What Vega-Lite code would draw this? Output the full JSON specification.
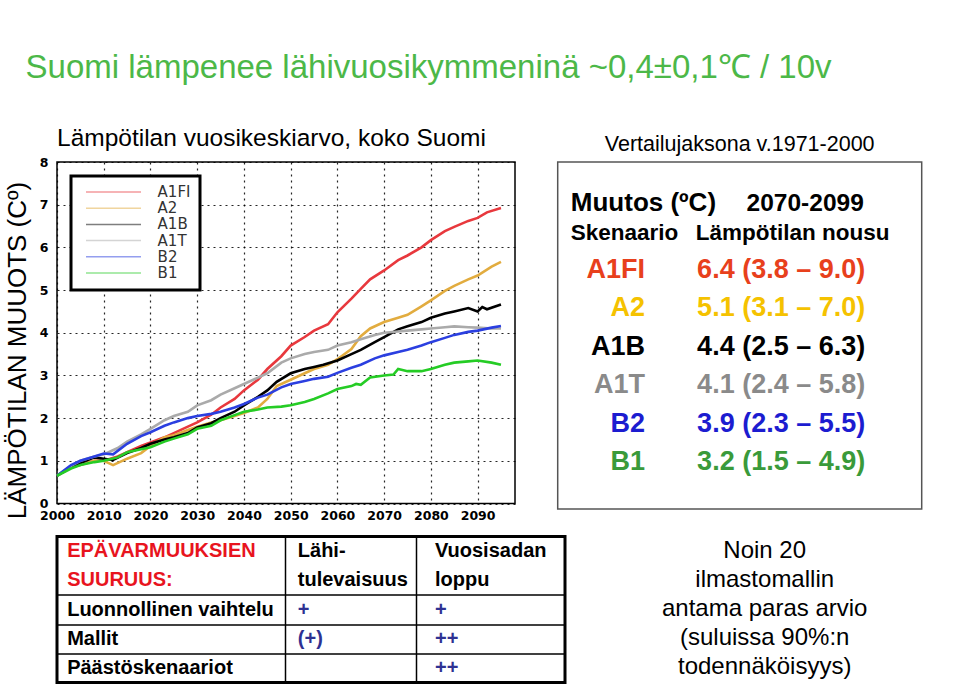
{
  "$schema": "https://vega.github.io/schema/vega-lite/v6.json",
  "padding": {"left": 3, "top": 51, "right": 0, "bottom": 0},
  "background": "white",
  "config": {"font": "Liberation Sans", "view": {"stroke": null}},
  "title": {"text": "Suomi lämpenee lähivuosikymmeninä ~0,4±0,1℃ / 10v", "anchor": "start", "fontSize": 33, "fontWeight": "normal", "color": "#4CB848", "dx": 22, "offset": 40},
  "columns": 2,
  "bounds": "flush",
  "align": {"row": "each", "column": "none"},
  "spacing": {"row": 27.5, "column": -7.3},
  "resolve": {"scale": {"color": "independent", "fill": "independent"}},
  "concat": [
    {
      "width": 458,
      "height": 341.5,
      "title": {"text": "Lämpötilan vuosikeskiarvo, koko Suomi", "anchor": "start", "frame": "group", "fontSize": 24.5, "fontWeight": "normal", "color": "black", "offset": 5},
      "view": {"stroke": "black", "strokeWidth": 1.5},
      "data": {"values": [
        {"skenaario": "A1FI", "vuosi": 2000, "muutos": 0.65}, {"skenaario": "A1FI", "vuosi": 2003, "muutos": 0.85}, {"skenaario": "A1FI", "vuosi": 2005, "muutos": 0.9}, {"skenaario": "A1FI", "vuosi": 2008, "muutos": 1.0}, {"skenaario": "A1FI", "vuosi": 2010, "muutos": 1.0}, {"skenaario": "A1FI", "vuosi": 2013, "muutos": 1.1}, {"skenaario": "A1FI", "vuosi": 2015, "muutos": 1.2}, {"skenaario": "A1FI", "vuosi": 2018, "muutos": 1.35}, {"skenaario": "A1FI", "vuosi": 2020, "muutos": 1.43}, {"skenaario": "A1FI", "vuosi": 2023, "muutos": 1.55}, {"skenaario": "A1FI", "vuosi": 2025, "muutos": 1.65}, {"skenaario": "A1FI", "vuosi": 2028, "muutos": 1.8}, {"skenaario": "A1FI", "vuosi": 2030, "muutos": 1.9}, {"skenaario": "A1FI", "vuosi": 2033, "muutos": 2.08}, {"skenaario": "A1FI", "vuosi": 2035, "muutos": 2.25}, {"skenaario": "A1FI", "vuosi": 2038, "muutos": 2.45}, {"skenaario": "A1FI", "vuosi": 2040, "muutos": 2.65}, {"skenaario": "A1FI", "vuosi": 2043, "muutos": 2.9}, {"skenaario": "A1FI", "vuosi": 2045, "muutos": 3.15}, {"skenaario": "A1FI", "vuosi": 2048, "muutos": 3.45}, {"skenaario": "A1FI", "vuosi": 2050, "muutos": 3.7}, {"skenaario": "A1FI", "vuosi": 2053, "muutos": 3.9}, {"skenaario": "A1FI", "vuosi": 2055, "muutos": 4.05}, {"skenaario": "A1FI", "vuosi": 2058, "muutos": 4.2}, {"skenaario": "A1FI", "vuosi": 2060, "muutos": 4.48}, {"skenaario": "A1FI", "vuosi": 2063, "muutos": 4.8}, {"skenaario": "A1FI", "vuosi": 2065, "muutos": 5.03}, {"skenaario": "A1FI", "vuosi": 2067, "muutos": 5.25}, {"skenaario": "A1FI", "vuosi": 2070, "muutos": 5.46}, {"skenaario": "A1FI", "vuosi": 2073, "muutos": 5.7}, {"skenaario": "A1FI", "vuosi": 2075, "muutos": 5.81}, {"skenaario": "A1FI", "vuosi": 2078, "muutos": 6.0}, {"skenaario": "A1FI", "vuosi": 2080, "muutos": 6.17}, {"skenaario": "A1FI", "vuosi": 2083, "muutos": 6.38}, {"skenaario": "A1FI", "vuosi": 2085, "muutos": 6.48}, {"skenaario": "A1FI", "vuosi": 2088, "muutos": 6.62}, {"skenaario": "A1FI", "vuosi": 2090, "muutos": 6.69}, {"skenaario": "A1FI", "vuosi": 2092, "muutos": 6.82}, {"skenaario": "A1FI", "vuosi": 2095, "muutos": 6.92},
        {"skenaario": "A2", "vuosi": 2000, "muutos": 0.65}, {"skenaario": "A2", "vuosi": 2003, "muutos": 0.85}, {"skenaario": "A2", "vuosi": 2005, "muutos": 0.92}, {"skenaario": "A2", "vuosi": 2008, "muutos": 1.0}, {"skenaario": "A2", "vuosi": 2010, "muutos": 1.0}, {"skenaario": "A2", "vuosi": 2012, "muutos": 0.9}, {"skenaario": "A2", "vuosi": 2015, "muutos": 1.05}, {"skenaario": "A2", "vuosi": 2018, "muutos": 1.18}, {"skenaario": "A2", "vuosi": 2020, "muutos": 1.35}, {"skenaario": "A2", "vuosi": 2023, "muutos": 1.55}, {"skenaario": "A2", "vuosi": 2025, "muutos": 1.6}, {"skenaario": "A2", "vuosi": 2028, "muutos": 1.72}, {"skenaario": "A2", "vuosi": 2030, "muutos": 1.8}, {"skenaario": "A2", "vuosi": 2033, "muutos": 1.9}, {"skenaario": "A2", "vuosi": 2035, "muutos": 1.95}, {"skenaario": "A2", "vuosi": 2038, "muutos": 2.05}, {"skenaario": "A2", "vuosi": 2040, "muutos": 2.12}, {"skenaario": "A2", "vuosi": 2043, "muutos": 2.25}, {"skenaario": "A2", "vuosi": 2045, "muutos": 2.45}, {"skenaario": "A2", "vuosi": 2047, "muutos": 2.75}, {"skenaario": "A2", "vuosi": 2050, "muutos": 2.9}, {"skenaario": "A2", "vuosi": 2053, "muutos": 3.05}, {"skenaario": "A2", "vuosi": 2055, "muutos": 3.15}, {"skenaario": "A2", "vuosi": 2058, "muutos": 3.25}, {"skenaario": "A2", "vuosi": 2060, "muutos": 3.38}, {"skenaario": "A2", "vuosi": 2063, "muutos": 3.62}, {"skenaario": "A2", "vuosi": 2065, "muutos": 3.92}, {"skenaario": "A2", "vuosi": 2067, "muutos": 4.1}, {"skenaario": "A2", "vuosi": 2070, "muutos": 4.25}, {"skenaario": "A2", "vuosi": 2073, "muutos": 4.35}, {"skenaario": "A2", "vuosi": 2075, "muutos": 4.42}, {"skenaario": "A2", "vuosi": 2078, "muutos": 4.62}, {"skenaario": "A2", "vuosi": 2080, "muutos": 4.76}, {"skenaario": "A2", "vuosi": 2083, "muutos": 4.98}, {"skenaario": "A2", "vuosi": 2085, "muutos": 5.1}, {"skenaario": "A2", "vuosi": 2088, "muutos": 5.25}, {"skenaario": "A2", "vuosi": 2090, "muutos": 5.34}, {"skenaario": "A2", "vuosi": 2093, "muutos": 5.55}, {"skenaario": "A2", "vuosi": 2095, "muutos": 5.66},
        {"skenaario": "A1B", "vuosi": 2000, "muutos": 0.65}, {"skenaario": "A1B", "vuosi": 2003, "muutos": 0.85}, {"skenaario": "A1B", "vuosi": 2005, "muutos": 0.95}, {"skenaario": "A1B", "vuosi": 2008, "muutos": 1.08}, {"skenaario": "A1B", "vuosi": 2010, "muutos": 1.05}, {"skenaario": "A1B", "vuosi": 2012, "muutos": 1.02}, {"skenaario": "A1B", "vuosi": 2015, "muutos": 1.18}, {"skenaario": "A1B", "vuosi": 2018, "muutos": 1.3}, {"skenaario": "A1B", "vuosi": 2020, "muutos": 1.4}, {"skenaario": "A1B", "vuosi": 2023, "muutos": 1.5}, {"skenaario": "A1B", "vuosi": 2025, "muutos": 1.55}, {"skenaario": "A1B", "vuosi": 2028, "muutos": 1.65}, {"skenaario": "A1B", "vuosi": 2030, "muutos": 1.78}, {"skenaario": "A1B", "vuosi": 2033, "muutos": 1.88}, {"skenaario": "A1B", "vuosi": 2035, "muutos": 2.0}, {"skenaario": "A1B", "vuosi": 2038, "muutos": 2.15}, {"skenaario": "A1B", "vuosi": 2040, "muutos": 2.3}, {"skenaario": "A1B", "vuosi": 2043, "muutos": 2.5}, {"skenaario": "A1B", "vuosi": 2045, "muutos": 2.65}, {"skenaario": "A1B", "vuosi": 2047, "muutos": 2.85}, {"skenaario": "A1B", "vuosi": 2050, "muutos": 3.05}, {"skenaario": "A1B", "vuosi": 2053, "muutos": 3.15}, {"skenaario": "A1B", "vuosi": 2055, "muutos": 3.2}, {"skenaario": "A1B", "vuosi": 2057, "muutos": 3.25}, {"skenaario": "A1B", "vuosi": 2060, "muutos": 3.35}, {"skenaario": "A1B", "vuosi": 2063, "muutos": 3.5}, {"skenaario": "A1B", "vuosi": 2065, "muutos": 3.6}, {"skenaario": "A1B", "vuosi": 2068, "muutos": 3.78}, {"skenaario": "A1B", "vuosi": 2070, "muutos": 3.9}, {"skenaario": "A1B", "vuosi": 2073, "muutos": 4.08}, {"skenaario": "A1B", "vuosi": 2075, "muutos": 4.15}, {"skenaario": "A1B", "vuosi": 2078, "muutos": 4.25}, {"skenaario": "A1B", "vuosi": 2080, "muutos": 4.35}, {"skenaario": "A1B", "vuosi": 2083, "muutos": 4.45}, {"skenaario": "A1B", "vuosi": 2085, "muutos": 4.5}, {"skenaario": "A1B", "vuosi": 2088, "muutos": 4.58}, {"skenaario": "A1B", "vuosi": 2090, "muutos": 4.5}, {"skenaario": "A1B", "vuosi": 2091, "muutos": 4.6}, {"skenaario": "A1B", "vuosi": 2092, "muutos": 4.55}, {"skenaario": "A1B", "vuosi": 2095, "muutos": 4.66},
        {"skenaario": "A1T", "vuosi": 2000, "muutos": 0.65}, {"skenaario": "A1T", "vuosi": 2003, "muutos": 0.88}, {"skenaario": "A1T", "vuosi": 2005, "muutos": 1.0}, {"skenaario": "A1T", "vuosi": 2008, "muutos": 1.1}, {"skenaario": "A1T", "vuosi": 2010, "muutos": 1.15}, {"skenaario": "A1T", "vuosi": 2013, "muutos": 1.3}, {"skenaario": "A1T", "vuosi": 2015, "muutos": 1.45}, {"skenaario": "A1T", "vuosi": 2018, "muutos": 1.62}, {"skenaario": "A1T", "vuosi": 2020, "muutos": 1.75}, {"skenaario": "A1T", "vuosi": 2023, "muutos": 1.95}, {"skenaario": "A1T", "vuosi": 2025, "muutos": 2.05}, {"skenaario": "A1T", "vuosi": 2028, "muutos": 2.15}, {"skenaario": "A1T", "vuosi": 2030, "muutos": 2.3}, {"skenaario": "A1T", "vuosi": 2033, "muutos": 2.42}, {"skenaario": "A1T", "vuosi": 2035, "muutos": 2.55}, {"skenaario": "A1T", "vuosi": 2038, "muutos": 2.7}, {"skenaario": "A1T", "vuosi": 2040, "muutos": 2.8}, {"skenaario": "A1T", "vuosi": 2043, "muutos": 2.95}, {"skenaario": "A1T", "vuosi": 2045, "muutos": 3.05}, {"skenaario": "A1T", "vuosi": 2048, "muutos": 3.3}, {"skenaario": "A1T", "vuosi": 2050, "muutos": 3.4}, {"skenaario": "A1T", "vuosi": 2053, "muutos": 3.5}, {"skenaario": "A1T", "vuosi": 2055, "muutos": 3.55}, {"skenaario": "A1T", "vuosi": 2058, "muutos": 3.6}, {"skenaario": "A1T", "vuosi": 2060, "muutos": 3.7}, {"skenaario": "A1T", "vuosi": 2063, "muutos": 3.78}, {"skenaario": "A1T", "vuosi": 2065, "muutos": 3.85}, {"skenaario": "A1T", "vuosi": 2068, "muutos": 3.95}, {"skenaario": "A1T", "vuosi": 2070, "muutos": 4.0}, {"skenaario": "A1T", "vuosi": 2073, "muutos": 4.03}, {"skenaario": "A1T", "vuosi": 2075, "muutos": 4.05}, {"skenaario": "A1T", "vuosi": 2078, "muutos": 4.08}, {"skenaario": "A1T", "vuosi": 2080, "muutos": 4.1}, {"skenaario": "A1T", "vuosi": 2083, "muutos": 4.13}, {"skenaario": "A1T", "vuosi": 2085, "muutos": 4.15}, {"skenaario": "A1T", "vuosi": 2088, "muutos": 4.13}, {"skenaario": "A1T", "vuosi": 2090, "muutos": 4.12}, {"skenaario": "A1T", "vuosi": 2093, "muutos": 4.1}, {"skenaario": "A1T", "vuosi": 2095, "muutos": 4.1},
        {"skenaario": "B2", "vuosi": 2000, "muutos": 0.65}, {"skenaario": "B2", "vuosi": 2003, "muutos": 0.9}, {"skenaario": "B2", "vuosi": 2005, "muutos": 1.0}, {"skenaario": "B2", "vuosi": 2008, "muutos": 1.1}, {"skenaario": "B2", "vuosi": 2010, "muutos": 1.17}, {"skenaario": "B2", "vuosi": 2012, "muutos": 1.15}, {"skenaario": "B2", "vuosi": 2015, "muutos": 1.4}, {"skenaario": "B2", "vuosi": 2018, "muutos": 1.58}, {"skenaario": "B2", "vuosi": 2020, "muutos": 1.67}, {"skenaario": "B2", "vuosi": 2023, "muutos": 1.82}, {"skenaario": "B2", "vuosi": 2025, "muutos": 1.9}, {"skenaario": "B2", "vuosi": 2028, "muutos": 2.0}, {"skenaario": "B2", "vuosi": 2030, "muutos": 2.05}, {"skenaario": "B2", "vuosi": 2033, "muutos": 2.1}, {"skenaario": "B2", "vuosi": 2035, "muutos": 2.15}, {"skenaario": "B2", "vuosi": 2038, "muutos": 2.25}, {"skenaario": "B2", "vuosi": 2040, "muutos": 2.33}, {"skenaario": "B2", "vuosi": 2043, "muutos": 2.48}, {"skenaario": "B2", "vuosi": 2045, "muutos": 2.55}, {"skenaario": "B2", "vuosi": 2048, "muutos": 2.72}, {"skenaario": "B2", "vuosi": 2050, "muutos": 2.8}, {"skenaario": "B2", "vuosi": 2053, "muutos": 2.87}, {"skenaario": "B2", "vuosi": 2055, "muutos": 2.92}, {"skenaario": "B2", "vuosi": 2058, "muutos": 2.97}, {"skenaario": "B2", "vuosi": 2060, "muutos": 3.06}, {"skenaario": "B2", "vuosi": 2063, "muutos": 3.18}, {"skenaario": "B2", "vuosi": 2065, "muutos": 3.25}, {"skenaario": "B2", "vuosi": 2068, "muutos": 3.4}, {"skenaario": "B2", "vuosi": 2070, "muutos": 3.47}, {"skenaario": "B2", "vuosi": 2073, "muutos": 3.55}, {"skenaario": "B2", "vuosi": 2075, "muutos": 3.6}, {"skenaario": "B2", "vuosi": 2078, "muutos": 3.7}, {"skenaario": "B2", "vuosi": 2080, "muutos": 3.78}, {"skenaario": "B2", "vuosi": 2083, "muutos": 3.88}, {"skenaario": "B2", "vuosi": 2085, "muutos": 3.95}, {"skenaario": "B2", "vuosi": 2088, "muutos": 4.02}, {"skenaario": "B2", "vuosi": 2090, "muutos": 4.05}, {"skenaario": "B2", "vuosi": 2093, "muutos": 4.12}, {"skenaario": "B2", "vuosi": 2095, "muutos": 4.16},
        {"skenaario": "B1", "vuosi": 2000, "muutos": 0.65}, {"skenaario": "B1", "vuosi": 2003, "muutos": 0.82}, {"skenaario": "B1", "vuosi": 2005, "muutos": 0.9}, {"skenaario": "B1", "vuosi": 2008, "muutos": 0.97}, {"skenaario": "B1", "vuosi": 2010, "muutos": 1.0}, {"skenaario": "B1", "vuosi": 2013, "muutos": 1.08}, {"skenaario": "B1", "vuosi": 2015, "muutos": 1.2}, {"skenaario": "B1", "vuosi": 2018, "muutos": 1.27}, {"skenaario": "B1", "vuosi": 2020, "muutos": 1.32}, {"skenaario": "B1", "vuosi": 2023, "muutos": 1.45}, {"skenaario": "B1", "vuosi": 2025, "muutos": 1.52}, {"skenaario": "B1", "vuosi": 2028, "muutos": 1.62}, {"skenaario": "B1", "vuosi": 2030, "muutos": 1.75}, {"skenaario": "B1", "vuosi": 2033, "muutos": 1.82}, {"skenaario": "B1", "vuosi": 2035, "muutos": 1.95}, {"skenaario": "B1", "vuosi": 2038, "muutos": 2.07}, {"skenaario": "B1", "vuosi": 2040, "muutos": 2.15}, {"skenaario": "B1", "vuosi": 2043, "muutos": 2.2}, {"skenaario": "B1", "vuosi": 2045, "muutos": 2.25}, {"skenaario": "B1", "vuosi": 2048, "muutos": 2.27}, {"skenaario": "B1", "vuosi": 2050, "muutos": 2.3}, {"skenaario": "B1", "vuosi": 2053, "muutos": 2.38}, {"skenaario": "B1", "vuosi": 2055, "muutos": 2.45}, {"skenaario": "B1", "vuosi": 2058, "muutos": 2.58}, {"skenaario": "B1", "vuosi": 2060, "muutos": 2.68}, {"skenaario": "B1", "vuosi": 2063, "muutos": 2.75}, {"skenaario": "B1", "vuosi": 2064, "muutos": 2.8}, {"skenaario": "B1", "vuosi": 2065, "muutos": 2.78}, {"skenaario": "B1", "vuosi": 2067, "muutos": 2.95}, {"skenaario": "B1", "vuosi": 2070, "muutos": 3.0}, {"skenaario": "B1", "vuosi": 2072, "muutos": 3.02}, {"skenaario": "B1", "vuosi": 2073, "muutos": 3.15}, {"skenaario": "B1", "vuosi": 2075, "muutos": 3.1}, {"skenaario": "B1", "vuosi": 2078, "muutos": 3.1}, {"skenaario": "B1", "vuosi": 2080, "muutos": 3.15}, {"skenaario": "B1", "vuosi": 2083, "muutos": 3.25}, {"skenaario": "B1", "vuosi": 2085, "muutos": 3.3}, {"skenaario": "B1", "vuosi": 2088, "muutos": 3.33}, {"skenaario": "B1", "vuosi": 2090, "muutos": 3.35}, {"skenaario": "B1", "vuosi": 2093, "muutos": 3.3}, {"skenaario": "B1", "vuosi": 2095, "muutos": 3.25}
      ]},
      "mark": {"type": "line", "strokeWidth": 2.6},
      "encoding": {
        "x": {"field": "vuosi", "type": "quantitative", "scale": {"domain": [2000, 2098], "nice": false},
          "axis": {"values": [2000, 2010, 2020, 2030, 2040, 2050, 2060, 2070, 2080, 2090], "format": "d", "title": null, "domain": false, "ticks": false, "labelPadding": 6, "labelFont": "DejaVu Sans", "labelFontWeight": "bold", "labelFontSize": 12.5, "labelColor": "black", "labelFlush": false, "grid": true, "gridColor": "black", "gridDash": [2, 4], "gridWidth": 1.2, "gridOpacity": 0.85}},
        "y": {"field": "muutos", "type": "quantitative", "scale": {"domain": [0, 8], "nice": false},
          "axis": {"values": [0, 1, 2, 3, 4, 5, 6, 7, 8], "title": "LÄMPÖTILAN MUUOTS (Cº)", "titleFont": "Liberation Sans", "titleFontSize": 26, "titleFontWeight": "normal", "titleColor": "black", "titlePadding": 9, "titleY": 188, "domain": false, "ticks": false, "labelPadding": 9, "labelFont": "DejaVu Sans", "labelFontWeight": "bold", "labelFontSize": 12.5, "labelColor": "black", "labelFlush": false, "grid": true, "gridColor": "black", "gridDash": [2, 4], "gridWidth": 1.2, "gridOpacity": 0.85}},
        "color": {"field": "skenaario", "type": "nominal",
          "scale": {"domain": ["A1FI", "A2", "A1B", "A1T", "B2", "B1"], "range": ["#E8383D", "#E2AC3F", "#000000", "#AAAAAA", "#2B3FE0", "#25CC25"]},
          "legend": {"orient": "top-left", "offset": 14, "title": null, "symbolType": "stroke", "symbolSize": 3025, "symbolStrokeWidth": 1.5, "symbolOpacity": 0.5, "clipHeight": 14, "rowPadding": 1.2, "padding": 9, "symbolOffset": 5, "labelOffset": 15.6, "labelFont": "DejaVu Sans", "labelFontSize": 15, "labelColor": "#333333", "strokeColor": "black", "fillColor": "white",
            "encode": {"legend": {"update": {"strokeWidth": {"value": 3}}}}}}
      }
    },
    {
      "width": 364,
      "height": 347,
      "view": {"stroke": "#555555", "strokeWidth": 1.5},
      "title": {"text": "Vertailujaksona v.1971-2000", "fontSize": 21.5, "fontWeight": "normal", "anchor": "middle", "color": "black", "offset": 7},
      "data": {"values": [
        {"nro": 1, "tunnus": "A1FI", "arvio": "6.4 (3.8 – 9.0)"},
        {"nro": 2, "tunnus": "A2", "arvio": "5.1 (3.1 – 7.0)"},
        {"nro": 3, "tunnus": "A1B", "arvio": "4.4 (2.5 – 6.3)"},
        {"nro": 4, "tunnus": "A1T", "arvio": "4.1 (2.4 – 5.8)"},
        {"nro": 5, "tunnus": "B2", "arvio": "3.9 (2.3 – 5.5)"},
        {"nro": 6, "tunnus": "B1", "arvio": "3.2 (1.5 – 4.9)"}
      ]},
      "layer": [
        {
          "mark": {"type": "text", "align": "right", "baseline": "alphabetic", "fontWeight": "bold", "fontSize": 27},
          "encoding": {
            "x": {"datum": 24, "type": "quantitative", "scale": {"domain": [0, 100]}, "axis": null},
            "y": {"field": "nro", "type": "quantitative", "scale": {"domain": [-1.656, 6.745], "reverse": true}, "axis": null},
            "text": {"field": "tunnus"},
            "color": {"field": "tunnus", "type": "nominal", "scale": {"domain": ["A1FI", "A2", "A1B", "A1T", "B2", "B1"], "range": ["#E8401C", "#F5C200", "#000000", "#8A8A8A", "#1C1CD0", "#3A9A3A"]}, "legend": null}
          }
        },
        {
          "mark": {"type": "text", "align": "left", "baseline": "alphabetic", "fontWeight": "bold", "fontSize": 27},
          "encoding": {
            "x": {"datum": 38.3, "type": "quantitative"},
            "y": {"field": "nro", "type": "quantitative"},
            "text": {"field": "arvio"},
            "color": {"field": "tunnus", "type": "nominal", "legend": null}
          }
        },
        {
          "data": {"values": [{"teksti": "Muutos (ºC)"}]},
          "mark": {"type": "text", "align": "left", "baseline": "alphabetic", "fontWeight": "bold", "fontSize": 26, "color": "black"},
          "encoding": {"x": {"datum": 3.6, "type": "quantitative"}, "y": {"datum": -0.74, "type": "quantitative"}, "text": {"field": "teksti"}}
        },
        {
          "data": {"values": [{"teksti": "2070-2099"}]},
          "mark": {"type": "text", "align": "left", "baseline": "alphabetic", "fontWeight": "bold", "fontSize": 24.5, "color": "black"},
          "encoding": {"x": {"datum": 51.9, "type": "quantitative"}, "y": {"datum": -0.74, "type": "quantitative"}, "text": {"field": "teksti"}}
        },
        {
          "data": {"values": [{"teksti": "Skenaario"}]},
          "mark": {"type": "text", "align": "left", "baseline": "alphabetic", "fontWeight": "bold", "fontSize": 22.5, "color": "black"},
          "encoding": {"x": {"datum": 3.6, "type": "quantitative"}, "y": {"datum": 0.03, "type": "quantitative"}, "text": {"field": "teksti"}}
        },
        {
          "data": {"values": [{"teksti": "Lämpötilan nousu"}]},
          "mark": {"type": "text", "align": "left", "baseline": "alphabetic", "fontWeight": "bold", "fontSize": 22.5, "color": "black"},
          "encoding": {"x": {"datum": 37.9, "type": "quantitative"}, "y": {"datum": 0.03, "type": "quantitative"}, "text": {"field": "teksti"}}
        }
      ]
    },
    {
      "width": 508,
      "height": 146,
      "view": {"stroke": "black", "strokeWidth": 3},
      "data": {"values": [
        {"rivi": "h1", "osa": "otsikko", "a": "EPÄVARMUUKSIEN", "b": "Lähi-", "c": "Vuosisadan"},
        {"rivi": "h2", "osa": "otsikko", "a": "SUURUUS:", "b": "tulevaisuus", "c": "loppu"},
        {"rivi": "r1", "osa": "tekijä", "a": "Luonnollinen vaihtelu", "b": "+", "c": "+"},
        {"rivi": "r2", "osa": "tekijä", "a": "Mallit", "b": "(+)", "c": "++"},
        {"rivi": "r3", "osa": "tekijä", "a": "Päästöskenaariot", "b": "", "c": "++"}
      ]},
      "encoding": {
        "y": {"field": "rivi", "type": "nominal", "sort": null,
          "scale": {"type": "band", "domain": ["h1", "h2", "r1", "r2", "r3"], "paddingInner": 0, "paddingOuter": 0},
          "axis": {"values": ["r1", "r2", "r3"], "tickBand": "extent", "grid": true, "gridColor": "black", "gridWidth": 1.5, "labels": false, "ticks": false, "domain": false, "title": null}}
      },
      "layer": [
        {
          "mark": {"type": "text", "align": "left", "baseline": "middle", "fontWeight": "bold", "fontSize": 20},
          "encoding": {
            "x": {"datum": 2, "type": "quantitative", "scale": {"domain": [0, 100]},
              "axis": {"values": [44.9, 70.7], "grid": true, "gridColor": "black", "gridWidth": 1.5, "labels": false, "ticks": false, "domain": false, "title": null}},
            "text": {"field": "a"},
            "color": {"field": "osa", "type": "nominal", "scale": {"domain": ["otsikko", "tekijä"], "range": ["#E8141E", "#000000"]}, "legend": null}
          }
        },
        {
          "mark": {"type": "text", "align": "left", "baseline": "middle", "fontWeight": "bold", "fontSize": 20},
          "encoding": {
            "x": {"datum": 47.4, "type": "quantitative"},
            "text": {"field": "b"},
            "fill": {"field": "osa", "type": "nominal", "scale": {"domain": ["otsikko", "tekijä"], "range": ["#000000", "#2E3192"]}, "legend": null}
          }
        },
        {
          "mark": {"type": "text", "align": "left", "baseline": "middle", "fontWeight": "bold", "fontSize": 20},
          "encoding": {
            "x": {"datum": 74.4, "type": "quantitative"},
            "text": {"field": "c"},
            "fill": {"field": "osa", "type": "nominal", "legend": null}
          }
        }
      ]
    },
    {
      "width": 414,
      "height": 29,
      "data": {"values": [{"teksti": "Noin 20\nilmastomallin\nantama paras arvio\n(suluissa 90%:n\ntodennäköisyys)"}]},
      "mark": {"type": "text", "fontSize": 24, "lineHeight": 29, "align": "center", "baseline": "middle", "color": "black", "lineBreak": "\n"},
      "encoding": {"text": {"field": "teksti"}}
    }
  ]
}
